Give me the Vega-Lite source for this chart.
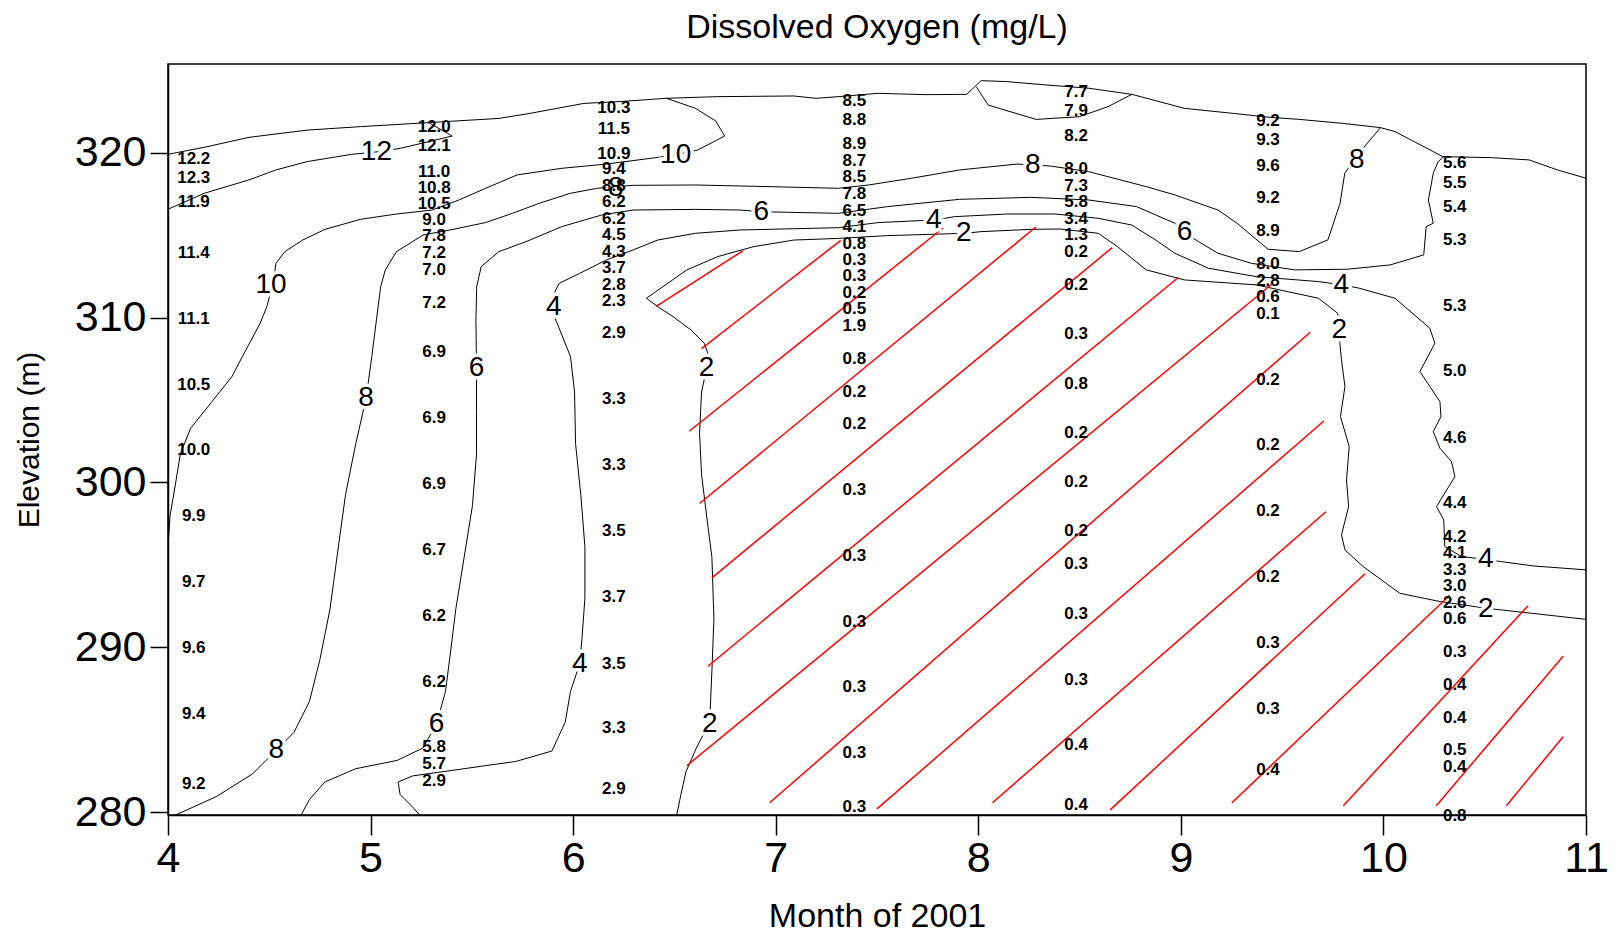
{
"$schema": "https://vega.github.io/schema/vega-lite/v6.json",
"width": 1418, "height": 751,
"autosize": {"type": "none"},
"padding": {"left": 168, "top": 64, "right": 32, "bottom": 117},
"background": "white",
"title": {"text": "Dissolved Oxygen (mg/L)", "fontSize": 34, "font": "Liberation Sans", "fontWeight": "normal", "offset": 19, "anchor": "middle", "color": "black"},
"config": {
  "view": {"stroke": "black", "strokeWidth": 1.5},
  "axis": {"grid": false, "domainColor": "black", "domainWidth": 1.5, "tickColor": "black", "tickWidth": 1.5, "labelColor": "black", "titleColor": "black", "labelFont": "Liberation Sans", "titleFont": "Liberation Sans", "titleFontWeight": "normal", "labelFontSize": 43, "labelOverlap": false}
},
"datasets": {
"contours": [
{"seg":"surface","i":0,"x":4.0,"y":319.9},{"seg":"surface","i":1,"x":4.18,"y":320.33},{"seg":"surface","i":2,"x":4.4,"y":320.93},{"seg":"surface","i":3,"x":4.687,"y":321.37},{"seg":"surface","i":4,"x":4.951,"y":321.58},{"seg":"surface","i":5,"x":5.282,"y":321.82},{"seg":"surface","i":6,"x":5.634,"y":322.08},{"seg":"surface","i":7,"x":5.789,"y":322.39},{"seg":"surface","i":8,"x":6.053,"y":322.99},{"seg":"surface","i":9,"x":6.23,"y":323.1},{"seg":"surface","i":10,"x":6.46,"y":323.3},{"seg":"surface","i":11,"x":6.714,"y":323.4},{"seg":"surface","i":12,"x":7.089,"y":323.44},{"seg":"surface","i":13,"x":7.199,"y":323.3},{"seg":"surface","i":14,"x":7.31,"y":323.4},{"seg":"surface","i":15,"x":7.506,"y":323.6},{"seg":"surface","i":16,"x":7.742,"y":323.52},{"seg":"surface","i":17,"x":7.943,"y":323.54},{"seg":"surface","i":18,"x":8.014,"y":324.37},{"seg":"surface","i":19,"x":8.143,"y":324.31},{"seg":"surface","i":20,"x":8.333,"y":324.11},{"seg":"surface","i":21,"x":8.545,"y":323.91},{"seg":"surface","i":22,"x":8.758,"y":323.54},{"seg":"surface","i":23,"x":9.018,"y":322.69},{"seg":"surface","i":24,"x":9.254,"y":322.39},{"seg":"surface","i":25,"x":9.443,"y":322.14},{"seg":"surface","i":26,"x":9.585,"y":322.02},{"seg":"surface","i":27,"x":9.797,"y":321.78},{"seg":"surface","i":28,"x":9.986,"y":321.52},{"seg":"surface","i":29,"x":10.057,"y":321.28},{"seg":"surface","i":30,"x":10.152,"y":320.67},{"seg":"surface","i":31,"x":10.293,"y":319.76},{"seg":"surface","i":32,"x":10.53,"y":319.7},{"seg":"surface","i":33,"x":10.72,"y":319.56},{"seg":"surface","i":34,"x":10.86,"y":318.95},{"seg":"surface","i":35,"x":11.0,"y":318.45},
{"seg":"c12","i":0,"x":4.0,"y":316.57},{"seg":"c12","i":1,"x":4.18,"y":317.54},{"seg":"c12","i":2,"x":4.4,"y":318.35},{"seg":"c12","i":3,"x":4.532,"y":318.95},{"seg":"c12","i":4,"x":4.687,"y":319.46},{"seg":"c12","i":5,"x":4.907,"y":319.9},{"seg":"c12","i":6,"x":5.04,"y":320.06},{"seg":"c12","i":7,"x":5.149,"y":320.27},{"seg":"c12","i":8,"x":5.403,"y":321.01},{"seg":"c12","i":9,"x":5.293,"y":321.78},
{"seg":"c10","i":0,"x":6.461,"y":323.3},{"seg":"c10","i":1,"x":6.604,"y":322.69},{"seg":"c10","i":2,"x":6.704,"y":321.92},{"seg":"c10","i":3,"x":6.748,"y":321.01},{"seg":"c10","i":4,"x":6.615,"y":320.16},{"seg":"c10","i":5,"x":6.505,"y":319.86},{"seg":"c10","i":6,"x":6.384,"y":319.66},{"seg":"c10","i":7,"x":6.164,"y":319.31},{"seg":"c10","i":8,"x":5.943,"y":319.05},{"seg":"c10","i":9,"x":5.723,"y":318.65},{"seg":"c10","i":10,"x":5.568,"y":317.84},{"seg":"c10","i":11,"x":5.436,"y":317.13},{"seg":"c10","i":12,"x":5.304,"y":316.52},{"seg":"c10","i":13,"x":5.128,"y":316.28},{"seg":"c10","i":14,"x":4.951,"y":315.96},{"seg":"c10","i":15,"x":4.775,"y":315.35},{"seg":"c10","i":16,"x":4.665,"y":314.7},{"seg":"c10","i":17,"x":4.577,"y":314.0},{"seg":"c10","i":18,"x":4.533,"y":313.29},{"seg":"c10","i":19,"x":4.52,"y":312.18},{"seg":"c10","i":20,"x":4.488,"y":310.66},{"seg":"c10","i":21,"x":4.455,"y":309.65},{"seg":"c10","i":22,"x":4.367,"y":307.63},{"seg":"c10","i":23,"x":4.316,"y":306.42},{"seg":"c10","i":24,"x":4.214,"y":304.85},{"seg":"c10","i":25,"x":4.112,"y":303.29},{"seg":"c10","i":26,"x":4.061,"y":301.73},{"seg":"c10","i":27,"x":4.036,"y":299.84},{"seg":"c10","i":28,"x":4.01,"y":297.96},{"seg":"c10","i":29,"x":4.0,"y":296.09},
{"seg":"c8a","i":0,"x":4.036,"y":279.81},{"seg":"c8a","i":1,"x":4.239,"y":280.94},{"seg":"c8a","i":2,"x":4.418,"y":282.32},{"seg":"c8a","i":3,"x":4.535,"y":283.76},{"seg":"c8a","i":4,"x":4.621,"y":284.82},{"seg":"c8a","i":5,"x":4.698,"y":286.7},{"seg":"c8a","i":6,"x":4.749,"y":289.2},{"seg":"c8a","i":7,"x":4.8,"y":292.33},{"seg":"c8a","i":8,"x":4.841,"y":296.09},{"seg":"c8a","i":9,"x":4.876,"y":299.22},{"seg":"c8a","i":10,"x":4.927,"y":302.35},{"seg":"c8a","i":11,"x":4.978,"y":305.1},{"seg":"c8a","i":12,"x":5.006,"y":307.63},{"seg":"c8a","i":13,"x":5.029,"y":309.86},{"seg":"c8a","i":14,"x":5.05,"y":311.88},{"seg":"c8a","i":15,"x":5.073,"y":312.89},{"seg":"c8a","i":16,"x":5.128,"y":314.0},{"seg":"c8a","i":17,"x":5.26,"y":315.01},{"seg":"c8a","i":18,"x":5.392,"y":315.31},{"seg":"c8a","i":19,"x":5.568,"y":315.76},{"seg":"c8a","i":20,"x":5.7,"y":316.32},{"seg":"c8a","i":21,"x":5.833,"y":316.93},{"seg":"c8a","i":22,"x":5.987,"y":317.54},{"seg":"c8a","i":23,"x":6.12,"y":317.84},{"seg":"c8a","i":24,"x":6.212,"y":317.94},{"seg":"c8a","i":25,"x":6.296,"y":318.02},{"seg":"c8a","i":26,"x":6.604,"y":318.04},{"seg":"c8a","i":27,"x":6.825,"y":317.98},{"seg":"c8a","i":28,"x":7.31,"y":317.84},{"seg":"c8a","i":29,"x":7.458,"y":318.04},{"seg":"c8a","i":30,"x":7.671,"y":318.45},{"seg":"c8a","i":31,"x":7.907,"y":318.95},{"seg":"c8a","i":32,"x":8.191,"y":319.31},{"seg":"c8a","i":33,"x":8.273,"y":319.25},{"seg":"c8a","i":34,"x":8.356,"y":319.19},{"seg":"c8a","i":35,"x":8.545,"y":318.85},{"seg":"c8a","i":36,"x":8.829,"y":317.94},{"seg":"c8a","i":37,"x":8.97,"y":317.44},{"seg":"c8a","i":38,"x":9.183,"y":316.52},{"seg":"c8a","i":39,"x":9.277,"y":315.72},{"seg":"c8a","i":40,"x":9.431,"y":314.14},{"seg":"c8a","i":41,"x":9.585,"y":314.0},{"seg":"c8a","i":42,"x":9.726,"y":314.71},{"seg":"c8a","i":43,"x":9.786,"y":316.93},{"seg":"c8a","i":44,"x":9.809,"y":318.75},{"seg":"c8a","i":45,"x":9.856,"y":319.56},{"seg":"c8a","i":46,"x":9.892,"y":320.16},{"seg":"c8a","i":47,"x":9.986,"y":321.52},
{"seg":"c8b","i":0,"x":7.99,"y":324.0},{"seg":"c8b","i":1,"x":8.049,"y":322.89},{"seg":"c8b","i":2,"x":8.285,"y":322.02},{"seg":"c8b","i":3,"x":8.498,"y":322.18},{"seg":"c8b","i":4,"x":8.64,"y":322.79},{"seg":"c8b","i":5,"x":8.758,"y":323.54},
{"seg":"c6","i":0,"x":4.657,"y":279.81},{"seg":"c6","i":1,"x":4.698,"y":280.75},{"seg":"c6","i":2,"x":4.774,"y":281.82},{"seg":"c6","i":3,"x":4.927,"y":282.63},{"seg":"c6","i":4,"x":5.131,"y":283.13},{"seg":"c6","i":5,"x":5.258,"y":283.88},{"seg":"c6","i":6,"x":5.325,"y":285.32},{"seg":"c6","i":7,"x":5.37,"y":287.32},{"seg":"c6","i":8,"x":5.396,"y":289.83},{"seg":"c6","i":9,"x":5.421,"y":292.33},{"seg":"c6","i":10,"x":5.462,"y":295.46},{"seg":"c6","i":11,"x":5.503,"y":298.59},{"seg":"c6","i":12,"x":5.523,"y":301.72},{"seg":"c6","i":13,"x":5.523,"y":304.23},{"seg":"c6","i":14,"x":5.523,"y":306.92},{"seg":"c6","i":15,"x":5.52,"y":309.86},{"seg":"c6","i":16,"x":5.524,"y":311.88},{"seg":"c6","i":17,"x":5.546,"y":313.09},{"seg":"c6","i":18,"x":5.634,"y":314.0},{"seg":"c6","i":19,"x":5.767,"y":314.6},{"seg":"c6","i":20,"x":5.943,"y":315.51},{"seg":"c6","i":21,"x":6.141,"y":316.22},{"seg":"c6","i":22,"x":6.296,"y":316.52},{"seg":"c6","i":23,"x":6.604,"y":316.56},{"seg":"c6","i":24,"x":6.825,"y":316.52},{"seg":"c6","i":25,"x":6.924,"y":316.42},{"seg":"c6","i":26,"x":7.31,"y":316.32},{"seg":"c6","i":27,"x":7.553,"y":316.73},{"seg":"c6","i":28,"x":7.907,"y":317.17},{"seg":"c6","i":29,"x":8.262,"y":317.29},{"seg":"c6","i":30,"x":8.545,"y":317.13},{"seg":"c6","i":31,"x":8.781,"y":316.73},{"seg":"c6","i":32,"x":8.97,"y":315.72},{"seg":"c6","i":33,"x":9.022,"y":315.11},{"seg":"c6","i":34,"x":9.088,"y":314.6},{"seg":"c6","i":35,"x":9.183,"y":313.9},{"seg":"c6","i":36,"x":9.348,"y":313.29},{"seg":"c6","i":37,"x":9.561,"y":312.89},{"seg":"c6","i":38,"x":9.821,"y":312.93},{"seg":"c6","i":39,"x":10.033,"y":313.19},{"seg":"c6","i":40,"x":10.199,"y":313.8},{"seg":"c6","i":41,"x":10.211,"y":315.51},{"seg":"c6","i":42,"x":10.246,"y":315.72},{"seg":"c6","i":43,"x":10.222,"y":317.13},{"seg":"c6","i":44,"x":10.246,"y":318.75},{"seg":"c6","i":45,"x":10.27,"y":319.46},{"seg":"c6","i":46,"x":10.298,"y":319.76},
{"seg":"c4","i":0,"x":5.243,"y":279.81},{"seg":"c4","i":1,"x":5.207,"y":280.31},{"seg":"c4","i":2,"x":5.146,"y":281.06},{"seg":"c4","i":3,"x":5.136,"y":281.82},{"seg":"c4","i":4,"x":5.207,"y":282.19},{"seg":"c4","i":5,"x":5.462,"y":282.63},{"seg":"c4","i":6,"x":5.717,"y":283.07},{"seg":"c4","i":7,"x":5.895,"y":283.7},{"seg":"c4","i":8,"x":5.961,"y":285.45},{"seg":"c4","i":9,"x":5.987,"y":287.32},{"seg":"c4","i":10,"x":6.033,"y":289.01},{"seg":"c4","i":11,"x":6.043,"y":290.45},{"seg":"c4","i":12,"x":6.058,"y":292.96},{"seg":"c4","i":13,"x":6.058,"y":296.09},{"seg":"c4","i":14,"x":6.038,"y":299.22},{"seg":"c4","i":15,"x":6.012,"y":302.35},{"seg":"c4","i":16,"x":6.007,"y":305.48},{"seg":"c4","i":17,"x":5.987,"y":307.63},{"seg":"c4","i":18,"x":5.921,"y":309.65},{"seg":"c4","i":19,"x":5.895,"y":310.36},{"seg":"c4","i":20,"x":5.888,"y":311.06},{"seg":"c4","i":21,"x":5.932,"y":312.08},{"seg":"c4","i":22,"x":6.032,"y":312.68},{"seg":"c4","i":23,"x":6.164,"y":313.49},{"seg":"c4","i":24,"x":6.296,"y":314.1},{"seg":"c4","i":25,"x":6.417,"y":314.7},{"seg":"c4","i":26,"x":6.604,"y":315.11},{"seg":"c4","i":27,"x":6.825,"y":315.31},{"seg":"c4","i":28,"x":7.31,"y":315.45},{"seg":"c4","i":29,"x":7.506,"y":315.76},{"seg":"c4","i":30,"x":7.789,"y":315.92},{"seg":"c4","i":31,"x":7.884,"y":316.12},{"seg":"c4","i":32,"x":8.143,"y":316.28},{"seg":"c4","i":33,"x":8.38,"y":316.28},{"seg":"c4","i":34,"x":8.592,"y":316.02},{"seg":"c4","i":35,"x":8.758,"y":315.61},{"seg":"c4","i":36,"x":8.876,"y":314.7},{"seg":"c4","i":37,"x":8.97,"y":313.9},{"seg":"c4","i":38,"x":9.136,"y":312.99},{"seg":"c4","i":39,"x":9.372,"y":312.48},{"seg":"c4","i":40,"x":9.679,"y":312.18},{"seg":"c4","i":41,"x":9.797,"y":311.98},{"seg":"c4","i":42,"x":9.88,"y":311.78},{"seg":"c4","i":43,"x":10.057,"y":311.17},{"seg":"c4","i":44,"x":10.229,"y":309.35},{"seg":"c4","i":45,"x":10.254,"y":308.44},{"seg":"c4","i":46,"x":10.18,"y":306.72},{"seg":"c4","i":47,"x":10.279,"y":304.9},{"seg":"c4","i":48,"x":10.284,"y":303.99},{"seg":"c4","i":49,"x":10.246,"y":303.08},{"seg":"c4","i":50,"x":10.279,"y":302.07},{"seg":"c4","i":51,"x":10.336,"y":301.26},{"seg":"c4","i":52,"x":10.353,"y":300.35},{"seg":"c4","i":53,"x":10.262,"y":298.53},{"seg":"c4","i":54,"x":10.298,"y":297.72},{"seg":"c4","i":55,"x":10.303,"y":296.1},{"seg":"c4","i":56,"x":10.386,"y":295.5},{"seg":"c4","i":57,"x":10.501,"y":295.33},{"seg":"c4","i":58,"x":10.583,"y":295.19},{"seg":"c4","i":59,"x":10.739,"y":294.93},{"seg":"c4","i":60,"x":11.0,"y":294.69},
{"seg":"c2","i":0,"x":6.511,"y":279.81},{"seg":"c2","i":1,"x":6.532,"y":281.06},{"seg":"c2","i":2,"x":6.557,"y":282.44},{"seg":"c2","i":3,"x":6.608,"y":283.88},{"seg":"c2","i":4,"x":6.674,"y":285.45},{"seg":"c2","i":5,"x":6.685,"y":288.58},{"seg":"c2","i":6,"x":6.695,"y":291.71},{"seg":"c2","i":7,"x":6.685,"y":295.46},{"seg":"c2","i":8,"x":6.659,"y":297.97},{"seg":"c2","i":9,"x":6.634,"y":300.47},{"seg":"c2","i":10,"x":6.624,"y":302.97},{"seg":"c2","i":11,"x":6.634,"y":305.48},{"seg":"c2","i":12,"x":6.659,"y":306.92},{"seg":"c2","i":13,"x":6.67,"y":307.63},{"seg":"c2","i":14,"x":6.648,"y":308.43},{"seg":"c2","i":15,"x":6.582,"y":309.24},{"seg":"c2","i":16,"x":6.494,"y":310.05},{"seg":"c2","i":17,"x":6.417,"y":310.66},{"seg":"c2","i":18,"x":6.362,"y":311.17},{"seg":"c2","i":19,"x":6.56,"y":312.88},{"seg":"c2","i":20,"x":6.715,"y":313.7},{"seg":"c2","i":21,"x":6.891,"y":314.3},{"seg":"c2","i":22,"x":7.089,"y":314.7},{"seg":"c2","i":23,"x":7.31,"y":314.8},{"seg":"c2","i":24,"x":7.553,"y":314.97},{"seg":"c2","i":25,"x":7.936,"y":315.11},{"seg":"c2","i":26,"x":8.014,"y":315.21},{"seg":"c2","i":27,"x":8.262,"y":315.35},{"seg":"c2","i":28,"x":8.404,"y":315.37},{"seg":"c2","i":29,"x":8.592,"y":315.11},{"seg":"c2","i":30,"x":8.687,"y":314.3},{"seg":"c2","i":31,"x":8.829,"y":312.89},{"seg":"c2","i":32,"x":9.018,"y":312.28},{"seg":"c2","i":33,"x":9.372,"y":311.98},{"seg":"c2","i":34,"x":9.679,"y":311.17},{"seg":"c2","i":35,"x":9.774,"y":310.26},{"seg":"c2","i":36,"x":9.785,"y":309.25},{"seg":"c2","i":37,"x":9.785,"y":308.44},{"seg":"c2","i":38,"x":9.793,"y":307.43},{"seg":"c2","i":39,"x":9.81,"y":305.81},{"seg":"c2","i":40,"x":9.788,"y":303.99},{"seg":"c2","i":41,"x":9.831,"y":302.17},{"seg":"c2","i":42,"x":9.818,"y":300.15},{"seg":"c2","i":43,"x":9.828,"y":298.53},{"seg":"c2","i":44,"x":9.793,"y":296.81},{"seg":"c2","i":45,"x":9.81,"y":295.9},{"seg":"c2","i":46,"x":9.9,"y":294.89},{"seg":"c2","i":47,"x":10.081,"y":293.27},{"seg":"c2","i":48,"x":10.279,"y":292.77},{"seg":"c2","i":49,"x":10.509,"y":292.36},{"seg":"c2","i":50,"x":10.583,"y":292.26},{"seg":"c2","i":51,"x":11.0,"y":291.69}
],
"hatch": [
{"id":1,"i":0,"x":6.41,"y":310.67},{"id":1,"i":1,"x":6.838,"y":314.05},
{"id":2,"i":0,"x":6.634,"y":308.11},{"id":2,"i":1,"x":7.321,"y":314.68},
{"id":3,"i":0,"x":6.573,"y":303.1},{"id":3,"i":1,"x":7.826,"y":315.43},
{"id":4,"i":0,"x":6.624,"y":298.72},{"id":4,"i":1,"x":8.284,"y":315.49},
{"id":5,"i":0,"x":6.685,"y":294.21},{"id":5,"i":1,"x":8.661,"y":314.24},
{"id":6,"i":0,"x":6.664,"y":288.83},{"id":6,"i":1,"x":8.987,"y":312.43},
{"id":7,"i":0,"x":6.562,"y":282.82},{"id":7,"i":1,"x":9.446,"y":311.99},
{"id":8,"i":0,"x":6.97,"y":280.56},{"id":8,"i":1,"x":9.639,"y":309.11},
{"id":9,"i":0,"x":7.5,"y":280.19},{"id":9,"i":1,"x":9.706,"y":303.72},
{"id":10,"i":0,"x":8.07,"y":280.56},{"id":10,"i":1,"x":9.716,"y":298.22},
{"id":11,"i":0,"x":8.651,"y":280.13},{"id":11,"i":1,"x":9.909,"y":294.46},
{"id":12,"i":0,"x":9.252,"y":280.56},{"id":12,"i":1,"x":10.327,"y":293.15},
{"id":13,"i":0,"x":9.802,"y":280.38},{"id":13,"i":1,"x":10.714,"y":292.52},
{"id":14,"i":0,"x":10.261,"y":280.38},{"id":14,"i":1,"x":10.887,"y":289.45},
{"id":15,"i":0,"x":10.607,"y":280.38},{"id":15,"i":1,"x":10.887,"y":284.57}
],
"clabels": [
{"x":5.029,"y":320.06,"label":"12"},{"x":6.506,"y":319.87,"label":"10"},{"x":4.509,"y":311.99,"label":"10"},
{"x":6.211,"y":317.87,"label":"8"},{"x":4.978,"y":305.1,"label":"8"},{"x":4.535,"y":283.76,"label":"8"},{"x":8.269,"y":319.25,"label":"8"},{"x":9.869,"y":319.56,"label":"8"},
{"x":6.929,"y":316.43,"label":"6"},{"x":5.523,"y":306.92,"label":"6"},{"x":5.325,"y":285.32,"label":"6"},{"x":9.018,"y":315.18,"label":"6"},
{"x":7.78,"y":315.93,"label":"4"},{"x":5.905,"y":310.61,"label":"4"},{"x":6.033,"y":289.01,"label":"4"},{"x":9.792,"y":311.99,"label":"4"},{"x":10.505,"y":295.34,"label":"4"},
{"x":7.928,"y":315.12,"label":"2"},{"x":6.659,"y":306.92,"label":"2"},{"x":6.674,"y":285.32,"label":"2"},{"x":9.782,"y":309.23,"label":"2"},{"x":10.505,"y":292.33,"label":"2"}
],
"values": [
{"x":4.127,"y":319.62,"label":"12.2"},{"x":4.127,"y":318.44,"label":"12.3"},{"x":4.127,"y":317.0,"label":"11.9"},{"x":4.127,"y":313.93,"label":"11.4"},{"x":4.127,"y":309.92,"label":"11.1"},{"x":4.127,"y":305.92,"label":"10.5"},{"x":4.127,"y":301.97,"label":"10.0"},{"x":4.127,"y":297.97,"label":"9.9"},{"x":4.127,"y":293.96,"label":"9.7"},{"x":4.127,"y":289.95,"label":"9.6"},{"x":4.127,"y":285.95,"label":"9.4"},{"x":4.127,"y":281.69,"label":"9.2"},
{"x":5.314,"y":321.56,"label":"12.0"},{"x":5.314,"y":320.38,"label":"12.1"},{"x":5.314,"y":318.81,"label":"11.0"},{"x":5.314,"y":317.87,"label":"10.8"},{"x":5.314,"y":316.87,"label":"10.5"},{"x":5.314,"y":315.93,"label":"9.0"},{"x":5.314,"y":314.93,"label":"7.8"},{"x":5.314,"y":313.93,"label":"7.2"},{"x":5.314,"y":312.86,"label":"7.0"},{"x":5.314,"y":310.86,"label":"7.2"},{"x":5.314,"y":307.92,"label":"6.9"},{"x":5.314,"y":303.91,"label":"6.9"},{"x":5.314,"y":299.91,"label":"6.9"},{"x":5.314,"y":295.9,"label":"6.7"},{"x":5.314,"y":291.89,"label":"6.2"},{"x":5.314,"y":287.89,"label":"6.2"},{"x":5.314,"y":283.94,"label":"5.8"},{"x":5.314,"y":282.94,"label":"5.7"},{"x":5.314,"y":281.88,"label":"2.9"},
{"x":6.201,"y":322.69,"label":"10.3"},{"x":6.201,"y":321.44,"label":"11.5"},{"x":6.201,"y":319.94,"label":"10.9"},{"x":6.201,"y":319.0,"label":"9.4"},{"x":6.201,"y":318.0,"label":"8.8"},{"x":6.201,"y":317.0,"label":"6.2"},{"x":6.201,"y":316.0,"label":"6.2"},{"x":6.201,"y":314.99,"label":"4.5"},{"x":6.201,"y":313.99,"label":"4.3"},{"x":6.201,"y":312.99,"label":"3.7"},{"x":6.201,"y":311.99,"label":"2.8"},{"x":6.201,"y":310.99,"label":"2.3"},{"x":6.201,"y":309.05,"label":"2.9"},{"x":6.201,"y":305.04,"label":"3.3"},{"x":6.201,"y":301.03,"label":"3.3"},{"x":6.201,"y":297.03,"label":"3.5"},{"x":6.201,"y":293.02,"label":"3.7"},{"x":6.201,"y":289.01,"label":"3.5"},{"x":6.201,"y":285.07,"label":"3.3"},{"x":6.201,"y":281.38,"label":"2.9"},
{"x":7.388,"y":323.13,"label":"8.5"},{"x":7.388,"y":322.0,"label":"8.8"},{"x":7.388,"y":320.5,"label":"8.9"},{"x":7.388,"y":319.5,"label":"8.7"},{"x":7.388,"y":318.5,"label":"8.5"},{"x":7.388,"y":317.5,"label":"7.8"},{"x":7.388,"y":316.49,"label":"6.5"},{"x":7.388,"y":315.49,"label":"4.1"},{"x":7.388,"y":314.49,"label":"0.8"},{"x":7.388,"y":313.49,"label":"0.3"},{"x":7.388,"y":312.49,"label":"0.3"},{"x":7.388,"y":311.49,"label":"0.2"},{"x":7.388,"y":310.49,"label":"0.5"},{"x":7.388,"y":309.48,"label":"1.9"},{"x":7.388,"y":307.48,"label":"0.8"},{"x":7.388,"y":305.48,"label":"0.2"},{"x":7.388,"y":303.54,"label":"0.2"},{"x":7.388,"y":299.53,"label":"0.3"},{"x":7.388,"y":295.52,"label":"0.3"},{"x":7.388,"y":291.52,"label":"0.3"},{"x":7.388,"y":287.57,"label":"0.3"},{"x":7.388,"y":283.57,"label":"0.3"},{"x":7.388,"y":280.31,"label":"0.3"},
{"x":8.483,"y":323.69,"label":"7.7"},{"x":8.483,"y":322.5,"label":"7.9"},{"x":8.483,"y":321.0,"label":"8.2"},{"x":8.483,"y":319.0,"label":"8.0"},{"x":8.483,"y":318.0,"label":"7.3"},{"x":8.483,"y":317.0,"label":"5.8"},{"x":8.483,"y":316.0,"label":"3.4"},{"x":8.483,"y":314.99,"label":"1.3"},{"x":8.483,"y":313.99,"label":"0.2"},{"x":8.483,"y":311.99,"label":"0.2"},{"x":8.483,"y":308.98,"label":"0.3"},{"x":8.483,"y":305.98,"label":"0.8"},{"x":8.483,"y":302.97,"label":"0.2"},{"x":8.483,"y":300.03,"label":"0.2"},{"x":8.483,"y":297.03,"label":"0.2"},{"x":8.483,"y":295.02,"label":"0.3"},{"x":8.483,"y":292.02,"label":"0.3"},{"x":8.483,"y":288.01,"label":"0.3"},{"x":8.483,"y":284.07,"label":"0.4"},{"x":8.483,"y":280.44,"label":"0.4"},
{"x":9.43,"y":321.94,"label":"9.2"},{"x":9.43,"y":320.75,"label":"9.3"},{"x":9.43,"y":319.19,"label":"9.6"},{"x":9.43,"y":317.25,"label":"9.2"},{"x":9.43,"y":315.24,"label":"8.9"},{"x":9.43,"y":313.24,"label":"8.0"},{"x":9.43,"y":312.24,"label":"2.8"},{"x":9.43,"y":311.24,"label":"0.6"},{"x":9.43,"y":310.23,"label":"0.1"},{"x":9.43,"y":306.23,"label":"0.2"},{"x":9.43,"y":302.28,"label":"0.2"},{"x":9.43,"y":298.28,"label":"0.2"},{"x":9.43,"y":294.27,"label":"0.2"},{"x":9.43,"y":290.27,"label":"0.3"},{"x":9.43,"y":286.26,"label":"0.3"},{"x":9.43,"y":282.57,"label":"0.4"},
{"x":10.352,"y":319.37,"label":"5.6"},{"x":10.352,"y":318.18,"label":"5.5"},{"x":10.352,"y":316.68,"label":"5.4"},{"x":10.352,"y":314.68,"label":"5.3"},{"x":10.352,"y":310.67,"label":"5.3"},{"x":10.352,"y":306.73,"label":"5.0"},{"x":10.352,"y":302.72,"label":"4.6"},{"x":10.352,"y":298.72,"label":"4.4"},{"x":10.352,"y":296.71,"label":"4.2"},{"x":10.352,"y":295.71,"label":"4.1"},{"x":10.352,"y":294.71,"label":"3.3"},{"x":10.352,"y":293.71,"label":"3.0"},{"x":10.352,"y":292.71,"label":"2.6"},{"x":10.352,"y":291.71,"label":"0.6"},{"x":10.352,"y":289.7,"label":"0.3"},{"x":10.352,"y":287.7,"label":"0.4"},{"x":10.352,"y":285.7,"label":"0.4"},{"x":10.352,"y":283.76,"label":"0.5"},{"x":10.352,"y":282.76,"label":"0.4"},{"x":10.352,"y":279.75,"label":"0.8"}
]
},
"encoding": {
  "x": {"field": "x", "type": "quantitative", "scale": {"domain": [4, 11], "nice": false, "zero": false},
        "axis": {"values": [4,5,6,7,8,9,10,11], "title": "Month of 2001", "titleFontSize": 34, "tickSize": 20, "labelPadding": 2, "titlePadding": 19, "format": "d", "labelFlush": false}},
  "y": {"field": "y", "type": "quantitative", "scale": {"domain": [279.82, 325.38], "nice": false, "zero": false},
        "axis": {"values": [280,290,300,310,320], "title": "Elevation (m)", "titleFontSize": 30, "tickSize": 18, "labelPadding": 4, "titlePadding": 30, "format": "d"}}
},
"layer": [
  {"data": {"name": "contours"}, "mark": {"type": "line", "color": "black", "strokeWidth": 1, "clip": true},
   "encoding": {"detail": {"field": "seg"}, "order": {"field": "i", "type": "quantitative"}}},
  {"data": {"name": "hatch"}, "mark": {"type": "line", "color": "red", "strokeWidth": 1.5, "clip": true},
   "encoding": {"detail": {"field": "id"}, "order": {"field": "i", "type": "quantitative"}}},
  {"data": {"name": "clabels"}, "mark": {"type": "text", "font": "Liberation Sans", "fontSize": 28, "fill": "white", "stroke": "white", "strokeWidth": 7, "align": "center", "baseline": "middle"},
   "encoding": {"text": {"field": "label"}}},
  {"data": {"name": "values"}, "mark": {"type": "text", "font": "Liberation Sans", "fontWeight": "bold", "fontSize": 17, "color": "black", "align": "center", "baseline": "middle"},
   "encoding": {"text": {"field": "label"}}},
  {"data": {"name": "clabels"}, "mark": {"type": "text", "font": "Liberation Sans", "fontSize": 28, "color": "black", "align": "center", "baseline": "middle"},
   "encoding": {"text": {"field": "label"}}}
]
}
